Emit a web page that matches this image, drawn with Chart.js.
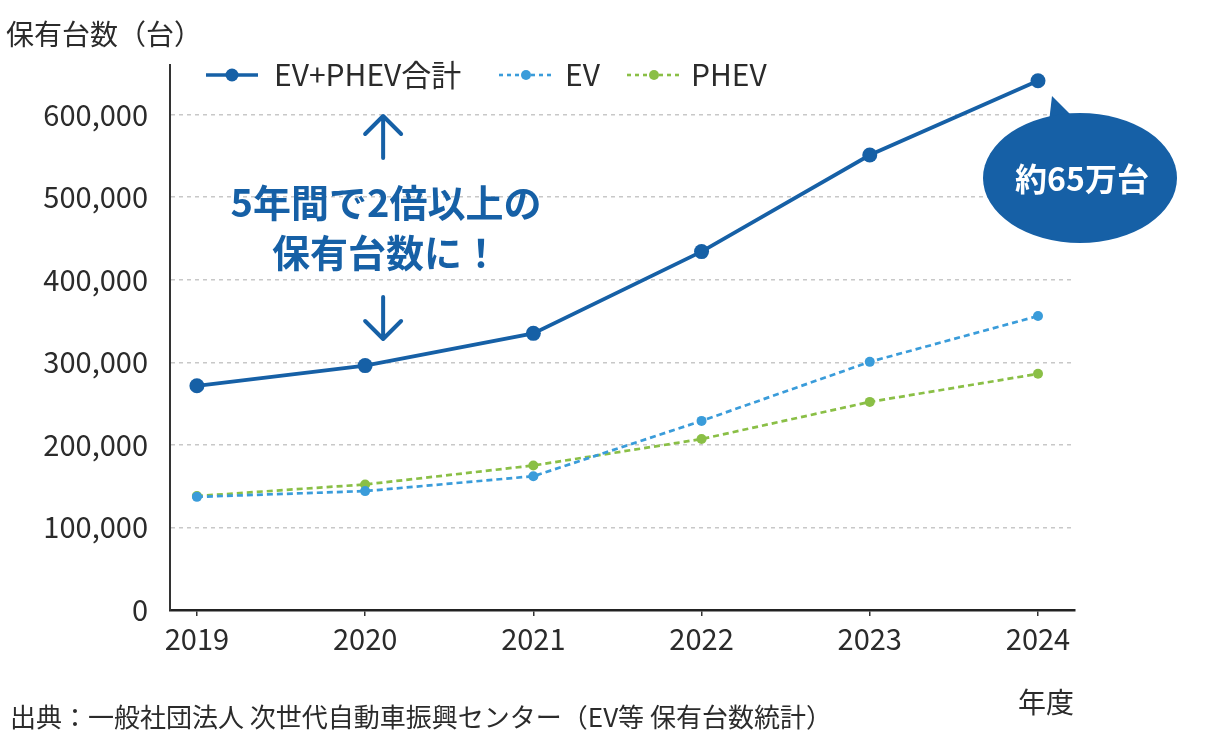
<!DOCTYPE html>
<html>
<head>
  <meta charset="utf-8">
  <title>EV・PHEV 保有台数</title>
  <script src="https://cdn.jsdelivr.net/npm/chart.js"></script>
  <style>
    body {
      margin: 0;
      background-color: #ffffff;
    }
    #box {
      position: relative;
      width: 1231px;
      height: 733px;
    }
  </style>
</head>
<body>
  <div id="box">
    <canvas id="grafico" width="1231" height="733"></canvas>
  </div>
<script>
  var anos = [2019, 2020, 2021, 2022, 2023, 2024];
  var totalVals = [271500, 296000, 335000, 434000, 551000, 641000];
  var evVals = [137000, 144000, 162000, 229000, 300500, 356000];
  var phevVals = [138000, 152000, 175000, 207000, 252000, 286000];
  var yTicks = [0, 100000, 200000, 300000, 400000, 500000, 600000];
  var nomes = ['EV+PHEV合計', 'EV', 'PHEV'];

  var fonte = '"Noto Sans CJK JP", "Noto Sans", sans-serif';
  var azul = '#1660a6';
  var azulClaro = '#3a9cda';
  var verde = '#8abf46';
  var texto = '#2b2b2b';

  function pontos(vals) {
    return vals.map(function (v, i) { return { x: anos[i], y: v }; });
  }

  // legenda, titulo do eixo, anotacoes e balao
  var extras = {
    id: 'extras',
    afterDraw: function (chart) {
      var ctx = chart.ctx;
      var xs = chart.scales.x;
      ctx.save();

      ctx.fillStyle = texto;
      ctx.font = '28px ' + fonte;
      ctx.textBaseline = 'middle';
      ctx.textAlign = 'left';
      ctx.fillText('保有台数（台）', 6, 34);

      // legenda
      var itens = [
        { x: 206, w: 52, cor: azul, lw: 3.5, dash: [], r: 6.5, txt: nomes[0], tx: 274 },
        { x: 499, w: 54, cor: azulClaro, lw: 2.6, dash: [4, 4], r: 5, txt: nomes[1], tx: 565 },
        { x: 627, w: 54, cor: verde, lw: 2.6, dash: [4, 4], r: 5, txt: nomes[2], tx: 691 }
      ];
      itens.forEach(function (it) {
        ctx.strokeStyle = it.cor;
        ctx.lineWidth = it.lw;
        ctx.setLineDash(it.dash);
        ctx.beginPath();
        ctx.moveTo(it.x, 75);
        ctx.lineTo(it.x + it.w, 75);
        ctx.stroke();
        ctx.setLineDash([]);
        ctx.fillStyle = it.cor;
        ctx.beginPath();
        ctx.arc(it.x + it.w / 2, 75, it.r, 0, Math.PI * 2);
        ctx.fill();
        ctx.fillStyle = texto;
        ctx.font = '30px ' + fonte;
        ctx.fillText(it.txt, it.tx, 75);
      });

      // texto azul com setas
      var cx = xs.getPixelForValue(2020) + 18;
      ctx.fillStyle = azul;
      ctx.font = 'bold 38px ' + fonte;
      ctx.textAlign = 'center';
      ctx.fillText('5年間で2倍以上の', 386, 203);
      ctx.fillText('保有台数に！', 386, 253);

      ctx.strokeStyle = azul;
      ctx.lineWidth = 4;
      ctx.lineCap = 'round';
      ctx.lineJoin = 'round';
      ctx.beginPath();
      ctx.moveTo(cx, 158); ctx.lineTo(cx, 117);
      ctx.moveTo(cx - 18, 134); ctx.lineTo(cx, 116); ctx.lineTo(cx + 18, 134);
      ctx.moveTo(cx, 297); ctx.lineTo(cx, 338);
      ctx.moveTo(cx - 18, 321); ctx.lineTo(cx, 339); ctx.lineTo(cx + 18, 321);
      ctx.stroke();

      // balao
      var bx = 1080, by = 178;
      ctx.fillStyle = azul;
      ctx.beginPath();
      ctx.moveTo(1049, 122);
      ctx.lineTo(1052, 96);
      ctx.lineTo(1072, 116);
      ctx.closePath();
      ctx.fill();
      ctx.beginPath();
      ctx.ellipse(bx, by, 97, 65, 0, 0, Math.PI * 2);
      ctx.fill();
      ctx.fillStyle = '#ffffff';
      ctx.font = 'bold 32px ' + fonte;
      ctx.fillText('約65万台', bx + 2, by + 1);

      // rodape
      ctx.fillStyle = texto;
      ctx.font = '28px ' + fonte;
      ctx.fillText('年度', 1046, 702);
      ctx.textAlign = 'left';
      ctx.font = '26px ' + fonte;
      ctx.fillText('出典：一般社団法人 次世代自動車振興センター（EV等 保有台数統計）', 10, 717);

      ctx.restore();
    }
  };

  var config = {
    type: 'line',
    data: {
      datasets: [
        {
          label: nomes[0],
          data: pontos(totalVals),
          borderColor: azul,
          backgroundColor: azul,
          borderWidth: 3.8,
          pointRadius: 7.5,
          pointBorderWidth: 0,
          order: 0
        },
        {
          label: nomes[2],
          data: pontos(phevVals),
          borderColor: verde,
          backgroundColor: verde,
          borderWidth: 2.7,
          borderDash: [6, 4],
          pointRadius: 5,
          pointBorderWidth: 0,
          order: 2
        },
        {
          label: nomes[1],
          data: pontos(evVals),
          borderColor: azulClaro,
          backgroundColor: azulClaro,
          borderWidth: 2.7,
          borderDash: [6, 4],
          pointRadius: 5,
          pointBorderWidth: 0,
          order: 1
        }
      ]
    },
    options: {
      responsive: false,
      animation: false,
      events: [],
      layout: { padding: { top: 65, right: 156, left: 0, bottom: 0 } },
      plugins: {
        legend: { display: false },
        tooltip: { enabled: false }
      },
      scales: {
        x: {
          type: 'linear',
          min: 2018.84,
          max: 2024.22,
          afterBuildTicks: function (s) {
            s.ticks = anos.map(function (a) { return { value: a }; });
          },
          afterFit: function (s) { s.height = 123; },
          grid: {
            drawOnChartArea: false,
            drawTicks: true,
            tickLength: 6,
            color: '#333333',
            lineWidth: 1.5
          },
          border: { color: '#222222', width: 2.5 },
          ticks: {
            padding: 6,
            color: texto,
            font: { family: fonte, size: 29 },
            callback: function (v) { return String(v); }
          }
        },
        y: {
          min: 0,
          max: 660000,
          afterBuildTicks: function (s) {
            s.ticks = yTicks.map(function (v) { return { value: v }; });
          },
          afterFit: function (s) { s.width = 170; },
          grid: {
            drawTicks: false,
            color: '#c8c8c8',
            lineWidth: 1.5
          },
          border: { color: '#333333', width: 2, dash: [4, 4] },
          ticks: {
            padding: 22,
            color: texto,
            font: { family: fonte, size: 29 },
            callback: function (v) { return v.toLocaleString('en-US'); }
          }
        }
      }
    },
    plugins: [extras]
  };

  var grafico = new Chart(document.getElementById('grafico'), config);
</script>
</body>
</html>
